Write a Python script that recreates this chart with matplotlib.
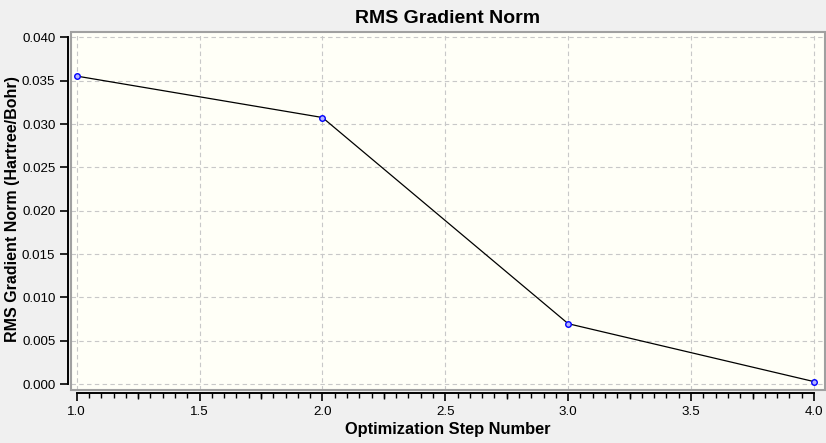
import matplotlib
matplotlib.use("Agg")
import matplotlib.pyplot as plt
from matplotlib.patches import Rectangle
from matplotlib.ticker import MultipleLocator

steps = [1.0, 2.0, 3.0, 4.0]
rms_grad = [0.03553, 0.03075, 0.00696, 0.00028]
yticks = [0.000, 0.005, 0.010, 0.015, 0.020, 0.025, 0.030, 0.035, 0.040]
xticks = [1.0, 1.5, 2.0, 2.5, 3.0, 3.5, 4.0]
quarter_ticks = [1.25, 1.75, 2.25, 2.75, 3.25, 3.75]

plt.rcParams['font.family'] = ['Liberation Sans', 'DejaVu Sans']

fig = plt.figure(figsize=(8.26, 4.43), dpi=100, facecolor='#f0f0f0')
ax = fig.add_axes([71/826, 1 - 390/443, 754/826, 358.3/443])
ax.set_facecolor('#fffff7')

ax.plot(steps, rms_grad, color='black', lw=0.9, marker='o', ms=4,
        mec='#0000ff', mfc='#b4b4ff', mew=1.0, zorder=3)

xlim = (0.977, 4.045)
ax.set_xlim(*xlim)
ax.set_ylim(-0.00069, 0.04065)
ax.set_xticks(xticks)
ax.set_yticks(yticks)
ax.set_xticklabels([f"{v:.1f}" for v in xticks])
ax.set_yticklabels([f"{v:.3f}" for v in yticks])
ax.xaxis.set_minor_locator(MultipleLocator(0.05))

ax.grid(True, which='major', color='#c8c8c8', ls=(0, (4, 3)), lw=0.8)
ax.set_axisbelow(True)

for s in ['top', 'right']:
    ax.spines[s].set_visible(False)
ax.spines['left'].set_position(('outward', 2.2))
ax.spines['bottom'].set_position(('outward', 2.2))
ax.spines['left'].set_bounds(0.0, 0.040)
ax.spines['bottom'].set_bounds(1.0, 4.0)
ax.spines['left'].set_linewidth(1.4)
ax.spines['bottom'].set_linewidth(1.4)

ax.add_patch(Rectangle((0, 0), 1, 1, transform=ax.transAxes, fill=False,
                       edgecolor='#a0a0a0', lw=1.5, clip_on=False, zorder=4))

ax.tick_params(axis='both', which='major', length=6, width=1.2, labelsize=9.6,
               colors='black', pad=3)
ax.tick_params(axis='x', which='minor', length=3.5, width=1.0)

# slightly longer ticks at quarter steps
tw = ax.twiny()
tw.set_xlim(*xlim)
tw.xaxis.set_ticks_position('bottom')
tw.spines['bottom'].set_position(('outward', 2.2))
for s in tw.spines.values():
    s.set_visible(False)
tw.set_xticks(quarter_ticks)
tw.set_xticklabels([])
tw.tick_params(axis='x', length=4.6, width=1.0)
tw.patch.set_visible(False)

ax.set_title("RMS Gradient Norm", fontsize=14, fontweight='bold', pad=6)
ax.set_xlabel("Optimization Step Number", fontsize=11.8, fontweight='bold', labelpad=3)
fig.text(13/826, 1 - 209/443, "RMS Gradient Norm (Hartree/Bohr)", rotation=90,
         ha='center', va='center', fontsize=11.5, fontweight='bold')

fig.savefig("out.png", dpi=100, facecolor=fig.get_facecolor())
